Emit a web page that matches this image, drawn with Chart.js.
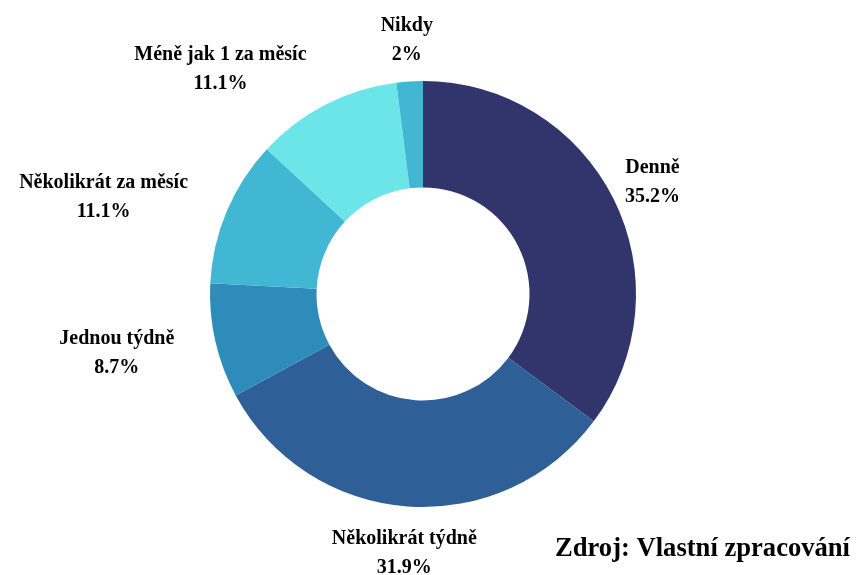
<!DOCTYPE html>
<html>
<head>
<meta charset="utf-8">
<script src="https://cdn.jsdelivr.net/npm/chart.js@4"></script>
<style>
    html, body { margin: 0; padding: 0; background: #ffffff; }
    #wrap { position: relative; width: 856px; height: 575px; }
</style>
</head>
<body>
<div id="wrap"><canvas id="myChart"></canvas></div>
<script>
const categories = ['Denně', 'Několikrát týdně', 'Jednou týdně', 'Několikrát za měsíc', 'Méně jak 1 za měsíc', 'Nikdy'];
const values = [35.2, 31.9, 8.7, 11.1, 11.1, 2];
const colors = ['#31356b', '#2f5f97', '#2e8cba', '#42b7d4', '#6be5e8', '#42b7d4'];
const sourceText = 'Zdroj: Vlastní zpracování';

document.addEventListener('DOMContentLoaded', function () {
    const labelFont = 'bold 20px "Liberation Serif", "Times New Roman", serif';

    // draws the outside labels next to each slice
    const outsideLabels = {
        id: 'outsideLabels',
        afterDraw(chart) {
            const ctx = chart.ctx;
            const meta = chart.getDatasetMeta(0);
            ctx.save();
            ctx.font = labelFont;
            ctx.fillStyle = '#000000';
            ctx.textBaseline = 'middle';
            meta.data.forEach((arc, i) => {
                const p = arc.getProps(['x', 'y', 'startAngle', 'endAngle', 'outerRadius'], true);
                const mid = (p.startAngle + p.endAngle) / 2;
                const cos = Math.cos(mid), sin = Math.sin(mid);
                const lines = [categories[i], values[i] + '%'];
                const w = Math.max(...lines.map(t => ctx.measureText(t).width));
                let cx, cy, r;
                if (Math.abs(cos) < 0.15) {
                    r = p.outerRadius + 45;
                    cx = p.x + cos * r;
                    cy = p.y + sin * r + (sin < 0 ? 3 : 2);
                } else if (cos > 0) {
                    r = p.outerRadius + 13;
                    cx = p.x + cos * r + w / 2;
                    cy = p.y + sin * r - 11;
                } else {
                    r = p.outerRadius + 42;
                    cx = p.x + cos * r - w / 2;
                    cy = p.y + sin * r + 2;
                }
                ctx.textAlign = 'center';
                ctx.fillText(lines[0], cx, cy - 14);
                ctx.fillText(lines[1], cx, cy + 15);
            });
            ctx.font = 'bold 26.6px "Liberation Serif", "Times New Roman", serif';
            ctx.textAlign = 'right';
            ctx.textBaseline = 'alphabetic';
            ctx.fillText(sourceText, 850, 556);
            ctx.restore();
        }
    };

    let ctx = document.getElementById('myChart').getContext('2d');
    let myChart = new Chart(ctx, {
        type: 'doughnut',
        data: {
            labels: categories,
            datasets: [
                {
                    data: values,
                    backgroundColor: colors,
                    borderWidth: 0,
                }
            ]
        },
        options: {
            responsive: true,
            maintainAspectRatio: false,
            animation: false,
            cutout: '50%',
            layout: {
                padding: { top: 81, bottom: 68, left: 210, right: 220 }
            },
            plugins: {
                legend: { display: false },
                tooltip: { enabled: false }
            }
        },
        plugins: [outsideLabels]
    });
});
</script>
</body>
</html>
